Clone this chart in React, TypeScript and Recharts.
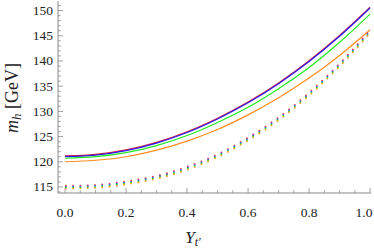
import { LineChart, Line, XAxis, YAxis } from "recharts"

// Y_t' sample points
const yt = [0, 0.1, 0.2, 0.3, 0.4, 0.5, 0.6, 0.7, 0.8, 0.9, 1.0]

// solid curves
const solidRed = [121.15, 121.45, 122.35, 123.85, 125.95, 128.65, 131.85, 135.65, 140.05, 145.05, 150.65]
const solidBlue = [121.0, 121.3, 122.2, 123.7, 125.8, 128.5, 131.7, 135.5, 139.9, 144.9, 150.5]
const solidGreen = [120.7, 121.0, 121.8, 123.2, 125.2, 127.8, 130.8, 134.5, 138.7, 143.7, 149.3]
const solidOrange = [120.0, 120.3, 121.0, 122.3, 124.1, 126.4, 129.3, 132.7, 136.6, 141.1, 146.2]

// dotted curves
const dotRed = [115.25, 115.4, 116.1, 117.2, 119.0, 121.5, 124.8, 128.8, 133.7, 139.5, 146.1]
const dotBlue = [115.05, 115.2, 115.9, 117.0, 118.8, 121.3, 124.6, 128.6, 133.5, 139.3, 145.9]
const dotGreen = [114.85, 115.0, 115.7, 116.8, 118.6, 121.1, 124.4, 128.4, 133.3, 139.1, 145.7]
const dotOrange = [114.65, 114.8, 115.5, 116.6, 118.4, 120.9, 124.2, 128.2, 133.1, 138.9, 145.5]

const xTicks = [0, 0.05, 0.1, 0.15, 0.2, 0.25, 0.3, 0.35, 0.4, 0.45, 0.5, 0.55, 0.6, 0.65, 0.7, 0.75, 0.8, 0.85, 0.9, 0.95, 1.0]
const xLabels = [0, 0.2, 0.4, 0.6, 0.8, 1.0]
const yTicks = [114, 115, 116, 117, 118, 119, 120, 121, 122, 123, 124, 125, 126, 127, 128, 129, 130, 131, 132, 133, 134, 135, 136, 137, 138, 139, 140, 141, 142, 143, 144, 145, 146, 147, 148, 149, 150, 151]
const yLabels = [115, 120, 125, 130, 135, 140, 145, 150]

const data = yt.map((x, i) => ({
  x,
  sr: solidRed[i],
  sb: solidBlue[i],
  sg: solidGreen[i],
  so: solidOrange[i],
  dr: dotRed[i],
  db: dotBlue[i],
  dg: dotGreen[i],
  dor: dotOrange[i],
}))

const FRAME = "#8a8a8a"
const FONT = "'Liberation Serif', 'Times New Roman', serif"
const M = 4 // tick margin used by the axes
const MAJOR = 5
const MINOR = 2.8

const isMajorX = (v: number) => xLabels.some((l) => Math.abs(l - v) < 1e-6)
const isMajorY = (v: number) => yLabels.includes(v)

function LeftTick(props: any) {
  const { x, y, payload } = props
  const major = isMajorY(payload.value)
  const x0 = x + M
  return (
    <g>
      <line x1={x0} x2={x0 + (major ? MAJOR : MINOR)} y1={y} y2={y} stroke={FRAME} strokeWidth={0.8} />
      {major && (
        <text x={x0 - 5} y={y + 4.5} textAnchor="end" fontFamily={FONT} fontSize={13.5} fill="#222">
          {payload.value}
        </text>
      )}
    </g>
  )
}

function RightTick(props: any) {
  const { x, y, payload } = props
  const major = isMajorY(payload.value)
  const x0 = x - M
  return <line x1={x0} x2={x0 - (major ? MAJOR : MINOR)} y1={y} y2={y} stroke={FRAME} strokeWidth={0.8} />
}

function BottomTick(props: any) {
  const { x, y, payload } = props
  const major = isMajorX(payload.value)
  const y0 = y - M
  return (
    <g>
      <line x1={x} x2={x} y1={y0} y2={y0 - (major ? MAJOR : MINOR)} stroke={FRAME} strokeWidth={0.8} />
      {major && (
        <text x={Math.min(x, 364)} y={y0 + 23.5} textAnchor="middle" fontFamily={FONT} fontSize={13.5} fill="#222">
          {payload.value.toFixed(1)}
        </text>
      )}
    </g>
  )
}

function TopTick(props: any) {
  const { x, y, payload } = props
  const major = isMajorX(payload.value)
  const y0 = y + M
  return <line x1={x} x2={x} y1={y0} y2={y0 + (major ? MAJOR : MINOR)} stroke={FRAME} strokeWidth={0.8} />
}

export default function App() {
  return (
    <div style={{ position: "absolute", left: 0, top: 0, background: "#fff" }}>
      <LineChart width={374} height={248} data={data} margin={{ top: 1, right: 3, bottom: 0, left: 0 }}>
        <XAxis
          xAxisId="b"
          dataKey="x"
          type="number"
          domain={[-0.023, 1.003]}
          allowDataOverflow
          ticks={xTicks}
          interval={0}
          height={55}
          tickSize={0}
          tickMargin={M}
          tickLine={false}
          stroke={FRAME}
          tick={<BottomTick />}
          label={{
            content: () => (
              <text x={193} y={243} textAnchor="middle" fontFamily={FONT} fontSize={17} fill="#222">
                <tspan fontStyle="italic">Y</tspan>
                <tspan fontStyle="italic" fontSize={12} dy={3}>t′</tspan>
              </text>
            ),
          }}
        />
        <XAxis
          xAxisId="t"
          orientation="top"
          dataKey="x"
          type="number"
          domain={[-0.023, 1.003]}
          allowDataOverflow
          ticks={xTicks}
          interval={0}
          height={0}
          tickSize={0}
          tickMargin={M}
          tickLine={false}
          stroke={FRAME}
          tick={<TopTick />}
        />
        <YAxis
          yAxisId="l"
          type="number"
          domain={[113.8, 151.9]}
          allowDataOverflow
          ticks={yTicks}
          interval={0}
          width={58}
          tickSize={0}
          tickMargin={M}
          tickLine={false}
          stroke={FRAME}
          tick={<LeftTick />}
          label={{
            content: () => (
              <text
                x={0}
                y={0}
                transform="translate(18,98) rotate(-90)"
                textAnchor="middle"
                fontFamily={FONT}
                fontSize={18}
                fill="#222"
              >
                <tspan fontStyle="italic">m</tspan>
                <tspan fontStyle="italic" fontSize={13} dy={3}>h</tspan>
                <tspan dy={-3}> [GeV]</tspan>
              </text>
            ),
          }}
        />
        <YAxis
          yAxisId="r"
          orientation="right"
          type="number"
          domain={[113.8, 151.9]}
          allowDataOverflow
          ticks={yTicks}
          interval={0}
          width={0}
          tickSize={0}
          tickMargin={M}
          tickLine={false}
          stroke={FRAME}
          tick={<RightTick />}
        />
        <Line xAxisId="b" yAxisId="l" dataKey="sr" type="monotone" stroke="#e0203a" strokeWidth={1.2} dot={false} isAnimationActive={false} />
        <Line xAxisId="b" yAxisId="l" dataKey="sb" type="monotone" stroke="#2a1cf0" strokeWidth={1.2} dot={false} isAnimationActive={false} />
        <Line xAxisId="b" yAxisId="l" dataKey="sg" type="monotone" stroke="#22e822" strokeWidth={1.2} dot={false} isAnimationActive={false} />
        <Line xAxisId="b" yAxisId="l" dataKey="so" type="monotone" stroke="#ff8c1e" strokeWidth={1.2} dot={false} isAnimationActive={false} />
        <Line xAxisId="b" yAxisId="l" dataKey="dr" type="monotone" stroke="#ff3c4c" strokeWidth={1.6} strokeDasharray="1.6 5.7" dot={false} isAnimationActive={false} />
        <Line xAxisId="b" yAxisId="l" dataKey="db" type="monotone" stroke="#3050ff" strokeWidth={1.6} strokeDasharray="1.6 5.7" dot={false} isAnimationActive={false} />
        <Line xAxisId="b" yAxisId="l" dataKey="dg" type="monotone" stroke="#2cd42c" strokeWidth={1.6} strokeDasharray="1.6 5.7" dot={false} isAnimationActive={false} />
        <Line xAxisId="b" yAxisId="l" dataKey="dor" type="monotone" stroke="#ffa01e" strokeWidth={1.6} strokeDasharray="1.6 5.7" dot={false} isAnimationActive={false} />
      </LineChart>
    </div>
  )
}
